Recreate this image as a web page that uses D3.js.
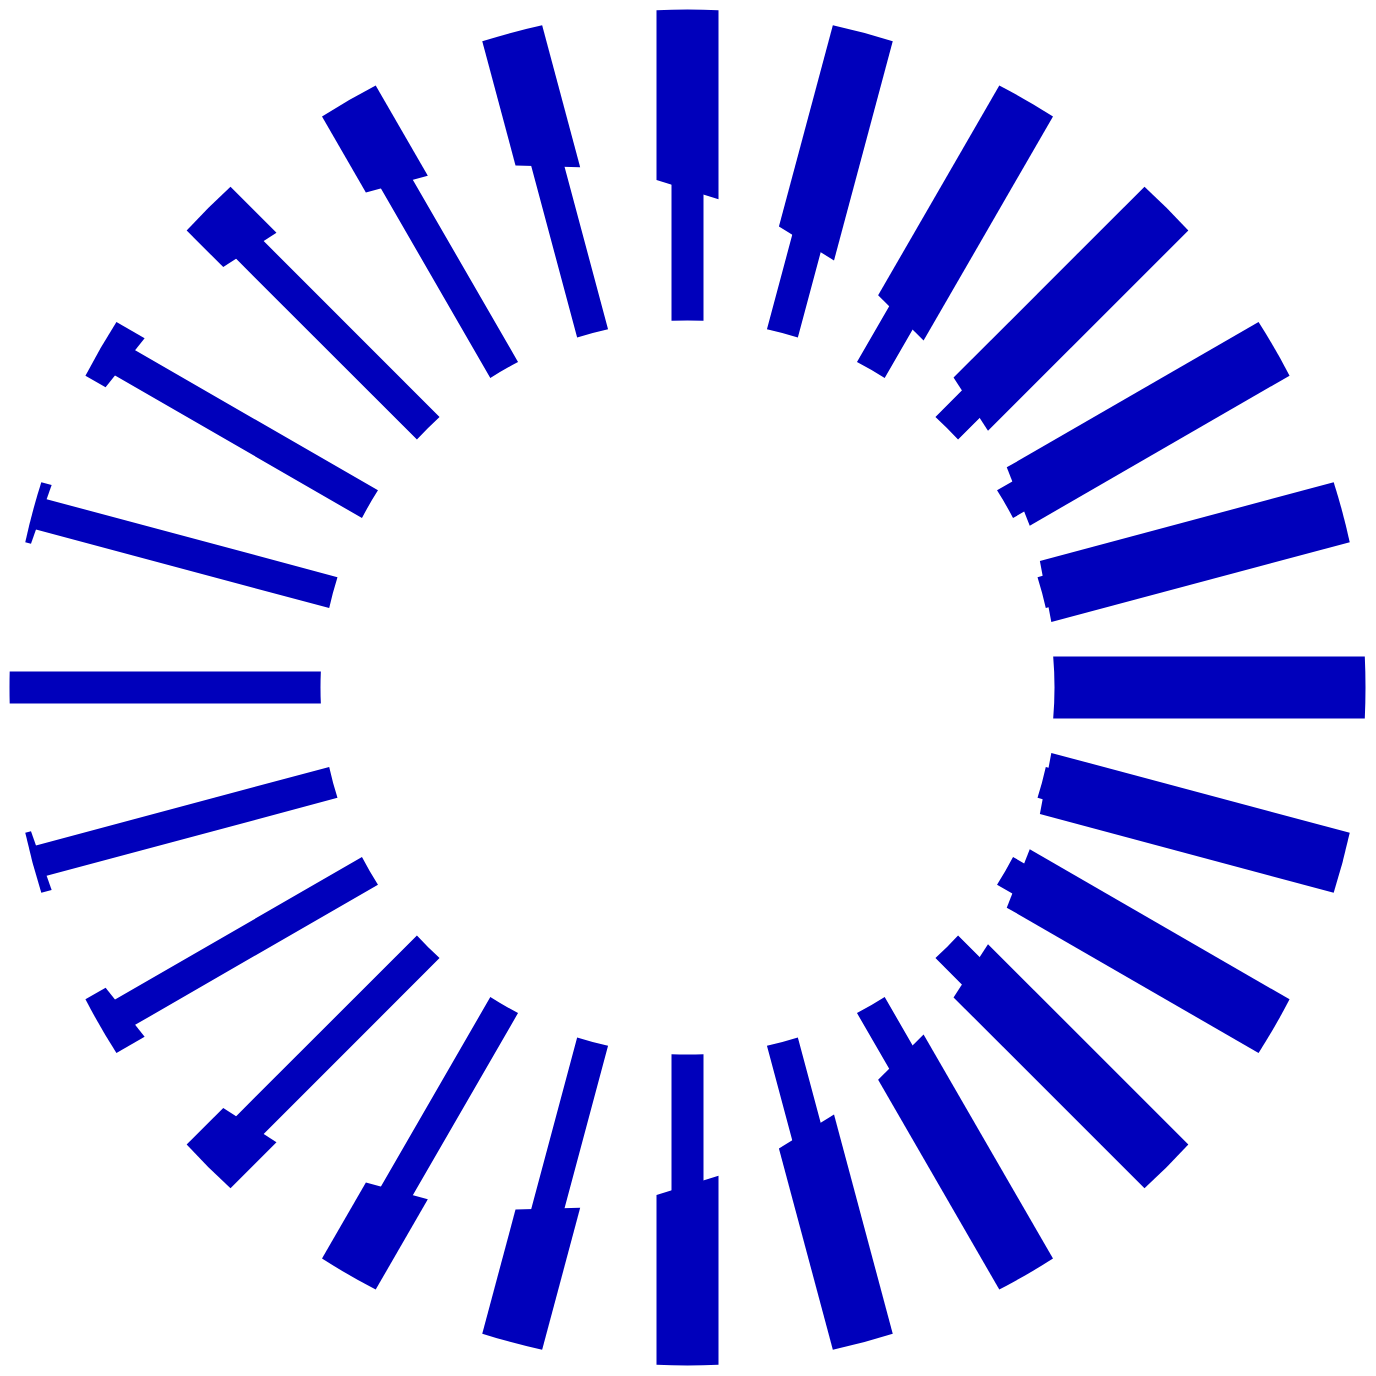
<!DOCTYPE html>
<html lang="en">

<head>
    <meta charset="UTF-8">
    <meta name="viewport" content="width=device-width, initial-scale=1.0">
    <title>Radial stacked bars</title>
    <style>
        body { margin: 0; background: #fff; }
    </style>
</head>

<body>
    <svg id="svg" width="1376" height="1376"></svg>

    <script src="https://d3js.org/d3.v7.min.js"></script>
    <script>
        // 24 spokes, one every 15 degrees (counter-clockwise from the right)
        const categories = ['0°', '15°', '30°', '45°', '60°', '75°', '90°', '105°', '120°', '135°', '150°', '165°',
            '180°', '195°', '210°', '225°', '240°', '255°', '270°', '285°', '300°', '315°', '330°', '345°']

        // inner (narrow) segment, as a share of the full spoke length
        const innerPart = [0, 1.2, 4.8, 10.8, 19.2, 29.8, 42.1, 55.5, 68.9, 81.0, 90.8, 97.1,
            100, 97.1, 90.8, 81.0, 68.9, 55.5, 42.1, 29.8, 19.2, 10.8, 4.8, 1.2]
        // outer (wide) segment
        const outerPart = [100, 98.8, 95.2, 89.2, 80.8, 70.2, 57.9, 44.5, 31.1, 19.0, 9.2, 2.9,
            0, 2.9, 9.2, 19.0, 31.1, 44.5, 57.9, 70.2, 80.8, 89.2, 95.2, 98.8]
        // tilt of the joint between the two segments, degrees
        const jointTilt = [0, 4.4, 8.5, 12.1, 14.9, 16.6, 17.2, 16.6, 14.9, 12.1, 8.5, 4.4,
            0, -4.4, -8.5, -12.1, -14.9, -16.6, -17.2, -16.6, -14.9, -12.1, -8.5, -4.4]

        const cx = 687.5, cy = 687.5
        const innerR = 367, outerR = 678
        const narrowW = 32, wideW = 62
        const color = '#0000bb'

        const angleScale = d3.scaleBand()
            .domain(categories)
            .range([0, 2 * Math.PI])
        const rScale = d3.scaleLinear()
            .domain([0, 100])
            .range([innerR, outerR])

        // point at distance t along the spoke and offset o sideways
        function pt(a, t, o) {
            const ux = Math.cos(a), uy = -Math.sin(a)
            const vx = -Math.sin(a), vy = -Math.cos(a)
            return [cx + t * ux + o * vx, cy + t * uy + o * vy]
        }

        // one segment of a spoke: from value v0 to v1, half width h
        function segment(a, v0, v1, h, tilt) {
            const k = Math.tan(tilt * Math.PI / 180)
            const p = []
            let d = ''
            // start edge
            if (v0 <= 0) {
                const t = Math.sqrt(innerR * innerR - h * h)
                const A = pt(a, t, -h), B = pt(a, t, h)
                d += `M${A}A${innerR},${innerR} 0 0 0 ${B}`
            } else {
                const t0 = rScale(v0)
                const A = pt(a, t0 - h * k, -h), B = pt(a, t0 + h * k, h)
                d += `M${A}L${B}`
            }
            // end edge
            if (v1 >= 100) {
                const t = Math.sqrt(outerR * outerR - h * h)
                const C = pt(a, t, h), D = pt(a, t, -h)
                d += `L${C}A${outerR},${outerR} 0 0 1 ${D}`
            } else {
                const t1 = rScale(v1) + 1 // tuck under the next segment
                const C = pt(a, t1 + h * k, h), D = pt(a, t1 - h * k, -h)
                d += `L${C}L${D}`
            }
            return d + 'Z'
        }

        const spokes = categories.map((c, i) => ({
            cat: c,
            inner: innerPart[i],
            outer: outerPart[i],
            tilt: jointTilt[i]
        }))

        const svg = d3.select('#svg')

        // narrow inner segments
        svg.append('g')
            .selectAll('path')
            .data(spokes.filter(d => d.inner > 0))
            .enter()
            .append('path')
            .attr('d', d => segment(angleScale(d.cat), 0, d.inner, narrowW / 2, d.tilt))
            .attr('fill', color)

        // wide outer segments, stacked on top
        svg.append('g')
            .selectAll('path')
            .data(spokes.filter(d => d.outer > 0))
            .enter()
            .append('path')
            .attr('d', d => segment(angleScale(d.cat), d.inner, d.inner + d.outer, wideW / 2, d.tilt))
            .attr('fill', color)
    </script>
</body>

</html>
